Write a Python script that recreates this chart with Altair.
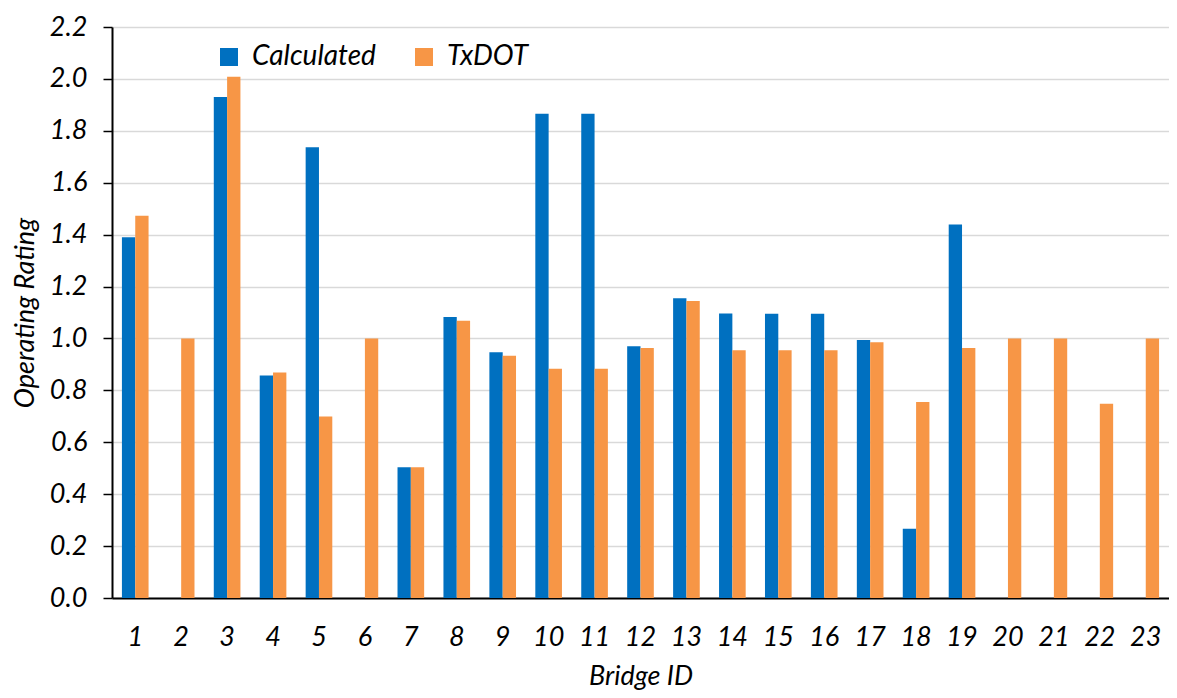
import altair as alt
import pandas as pd

bridge_ids = [str(i) for i in range(1, 24)]
calculated = [1.39, None, 1.93, 0.857, 1.737, None, 0.504, 1.083, 0.947, 1.866, 1.866,
              0.970, 1.155, 1.096, 1.095, 1.095, 0.994, 0.267, 1.439, None, None, None, None]
txdot = [1.473, 1.0, 2.008, 0.869, 0.699, 1.0, 0.504, 1.068, 0.933, 0.883, 0.883,
         0.963, 1.144, 0.955, 0.955, 0.955, 0.985, 0.755, 0.963, 1.0, 1.0, 0.748, 1.0]
series = ["Calculated", "TxDOT"]
colors = ["#0070C0", "#F79646"]
y_ticks = [round(0.2 * i, 1) for i in range(12)]

rows = []
for b, c, t in zip(bridge_ids, calculated, txdot):
    if c is not None:
        rows.append({"Bridge": b, "Series": "Calculated", "Value": c})
    if t is not None:
        rows.append({"Bridge": b, "Series": "TxDOT", "Value": t})
df = pd.DataFrame(rows)

font = "Lato"

chart = alt.Chart(df).mark_bar().encode(
    x=alt.X("Bridge:N", sort=bridge_ids,
            scale=alt.Scale(domain=bridge_ids, paddingInner=0.42, paddingOuter=0.216),
            axis=alt.Axis(title="Bridge ID", labelAngle=0, tickSize=0, labelPadding=26,
                          titlePadding=13, domainColor="black", domainWidth=2,
                          grid=False)),
    xOffset=alt.XOffset("Series:N", scale=alt.Scale(domain=series)),
    y=alt.Y("Value:Q",
            scale=alt.Scale(domain=[0, 2.2], nice=False),
            axis=alt.Axis(title="Operating Rating", values=y_ticks, format=".1f",
                          tickSize=9, tickColor="black", tickWidth=1.5,
                          labelPadding=16, titlePadding=10,
                          domainColor="black", domainWidth=2,
                          gridColor="#d9d9d9", gridWidth=1.5)),
    color=alt.Color("Series:N", scale=alt.Scale(domain=series, range=colors),
                    legend=alt.Legend(title=None, orient="none", direction="horizontal",
                                      legendX=103, legendY=16, symbolType="square",
                                      symbolSize=324, symbolStrokeWidth=0,
                                      labelFontSize=28, labelFont=font,
                                      labelFontStyle="italic", labelColor="black",
                                      columnPadding=34, symbolOffset=0,
                                      labelOffset=9)),
).properties(
    width=1161, height=682,
    padding={"left": 3, "top": 5, "right": 0, "bottom": 1},
    autosize=alt.AutoSizeParams(type="fit", contains="padding"),
).configure_axis(
    labelFont=font, labelFontSize=27, labelFontStyle="italic", labelColor="black",
    titleFont=font, titleFontSize=27, titleFontStyle="italic", titleFontWeight="normal",
    titleColor="black",
).configure_view(stroke=None)

chart.save("out.html", embed_options={"renderer": "svg", "actions": False})
